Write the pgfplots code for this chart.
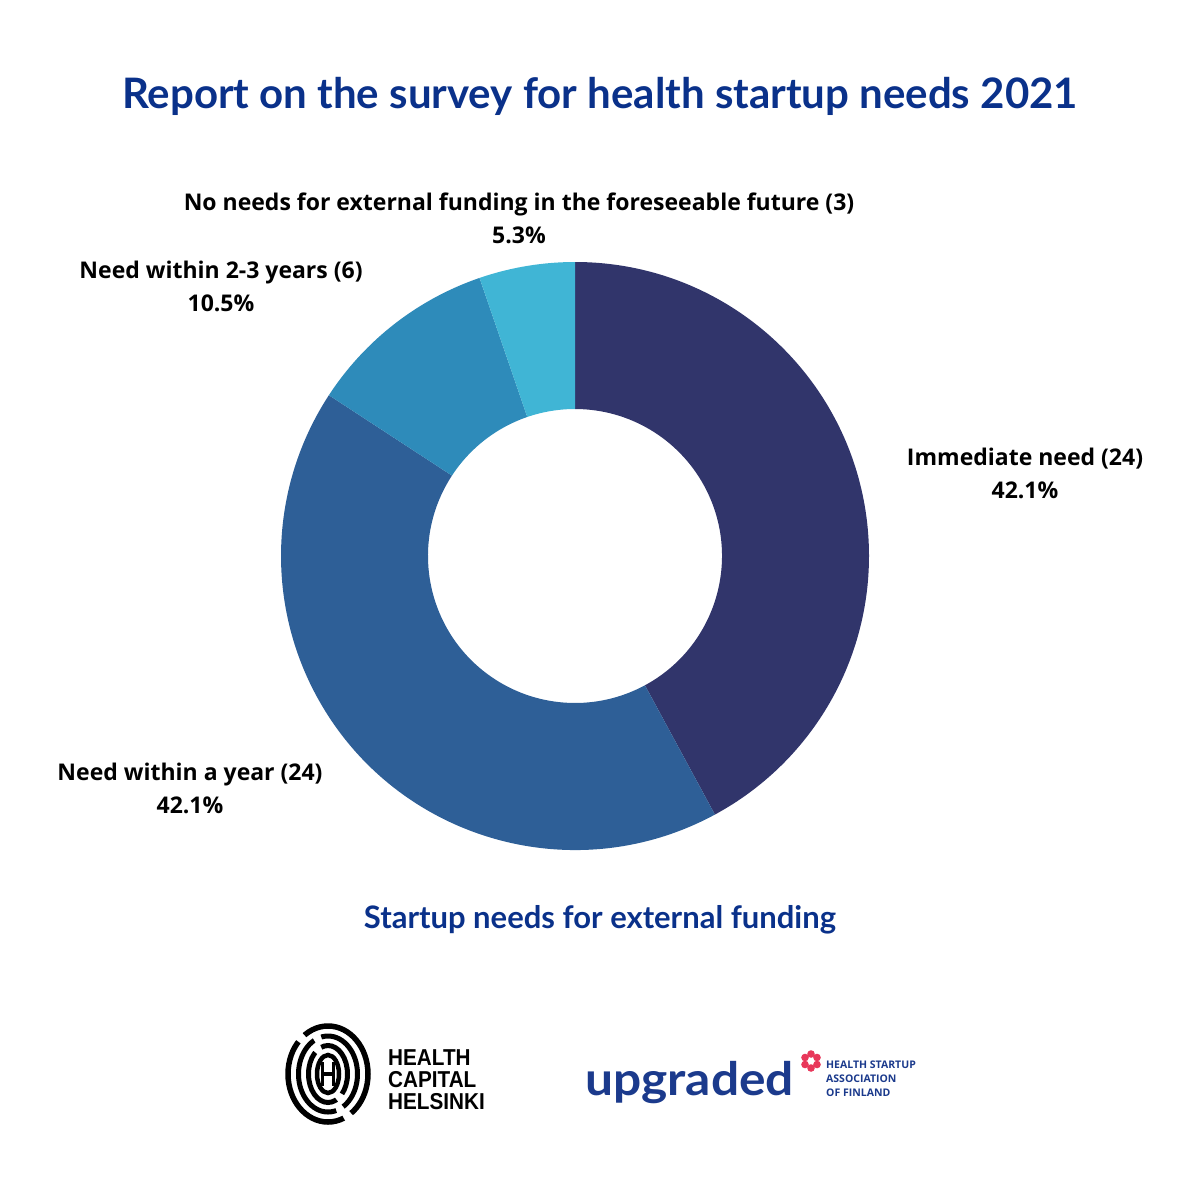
\documentclass[border=0pt]{standalone}
\usepackage{pgfplots}
\usepackage{pgfplotstable}
\pgfplotsset{compat=1.18}
\usepackage{fontspec}
\setmainfont{Open Sans}
\newfontfamily\lato{Lato}
\newfontfamily\latowide[FakeStretch=1.08]{Lato}
\newfontfamily\narrow[FakeStretch=0.9]{Liberation Sans}
\definecolor{titleblue}{HTML}{0A318A}
\definecolor{cA}{HTML}{31356B}
\definecolor{cB}{HTML}{2E5F97}
\definecolor{cC}{HTML}{2E8BBA}
\definecolor{cD}{HTML}{40B5D5}
\definecolor{upblue}{HTML}{1B3A8C}
\definecolor{uppink}{HTML}{E8375A}
\tikzset{lab/.style={font=\bfseries\fontsize{23}{33}\selectfont, align=center}}
\pgfplotstableread{
label value
Immediate 24
Year 24
TwoThree 6
None 3
}\data
\newcommand\donutwedge[3]{%
  \fill[#3] (axis cs:{575+294*cos(#1)},{556-294*sin(#1)}) arc[start angle=#1, end angle=#2, radius=294pt]
    -- (axis cs:{575+147*cos(#2)},{556-147*sin(#2)}) arc[start angle=#2, end angle=#1, radius=147pt] -- cycle;}
\begin{document}
\begin{tikzpicture}
\pgfplotstablegetelem{0}{value}\of\data \let\va\pgfplotsretval
\pgfplotstablegetelem{1}{value}\of\data \let\vb\pgfplotsretval
\pgfplotstablegetelem{2}{value}\of\data \let\vc\pgfplotsretval
\pgfplotstablegetelem{3}{value}\of\data \let\vd\pgfplotsretval
\pgfmathsetmacro\tot{\va+\vb+\vc+\vd}
\pgfmathsetmacro\aA{90}
\pgfmathsetmacro\aB{\aA-360*\va/\tot}
\pgfmathsetmacro\aC{\aB-360*\vb/\tot}
\pgfmathsetmacro\aD{\aC-360*\vc/\tot}
\pgfmathsetmacro\aE{\aD-360*\vd/\tot}
\path (0,0) rectangle (1200pt,1200pt);
\begin{axis}[at={(0,0)}, anchor=south west, x=1pt, y=1pt,
  xmin=0, xmax=1200, ymin=0, ymax=1200, y dir=reverse,
  hide axis, clip=false, scale only axis]
\donutwedge{\aA}{\aB}{cA}
\donutwedge{\aB}{\aC}{cB}
\donutwedge{\aC}{\aD}{cC}
\donutwedge{\aD}{\aE}{cD}
% title
\node[font=\lato\bfseries\fontsize{42}{48}\selectfont, text=titleblue] at (axis cs:600,96) {Report on the survey for health startup needs 2021};
\node[font=\lato\bfseries\fontsize{31}{36}\selectfont, text=titleblue] at (axis cs:600,920) {Startup needs for external funding};
% labels
\node[lab] at (axis cs:519,218.5) {No needs for external funding in the foreseeable future (3)\\5.3\%};
\node[lab] at (axis cs:221,286) {Need within 2-3 years (6)\\10.5\%};
\node[lab] at (axis cs:1025,473) {Immediate need (24)\\42.1\%};
\node[lab] at (axis cs:190,788) {Need within a year (24)\\42.1\%};
% HCH logo
\draw[line width=5.5pt, dash pattern=on 95pt off 9pt on 120pt off 9pt] (axis cs:328,1074) ellipse[x radius=40pt, y radius=48pt];
\draw[line width=5pt, dash pattern=on 60pt off 8pt on 100pt off 8pt] (axis cs:328,1074) ellipse[x radius=29.5pt, y radius=38pt];
\draw[line width=5pt, dash pattern=on 45pt off 8pt on 70pt off 8pt] (axis cs:328,1074) ellipse[x radius=19.5pt, y radius=28.5pt];
\draw[line width=4.5pt] (axis cs:328,1074) ellipse[x radius=11pt, y radius=19pt];
\draw[line width=3.5pt] (axis cs:322.5,1062) -- (axis cs:322.5,1086) (axis cs:333.5,1062) -- (axis cs:333.5,1086) (axis cs:322.5,1074) -- (axis cs:333.5,1074);
\tikzset{hch/.style={font=\narrow\bfseries\fontsize{23}{24}\selectfont, anchor=base west, inner sep=0pt}}
\node[hch] at (axis cs:388,1065) {HEALTH};
\node[hch] at (axis cs:388,1087) {CAPITAL};
\node[hch] at (axis cs:388,1109) {HELSINKI};
% upgraded logo
\node[font=\latowide\bfseries\fontsize{46}{46}\selectfont, text=upblue, anchor=base west, inner sep=0pt] at (axis cs:585,1095) {upgraded};
\fill[uppink] (axis cs:817,1064.5) circle[radius=3.8pt];
\fill[uppink] (axis cs:811,1068) circle[radius=3.8pt];
\fill[uppink] (axis cs:805,1064.5) circle[radius=3.8pt];
\fill[uppink] (axis cs:805,1057.5) circle[radius=3.8pt];
\fill[uppink] (axis cs:811,1054) circle[radius=3.8pt];
\fill[uppink] (axis cs:817,1057.5) circle[radius=3.8pt];
\tikzset{hsa/.style={font=\bfseries\fontsize{10.5}{13}\selectfont, text=upblue, anchor=base west, inner sep=0pt}}
\node[hsa] at (axis cs:826,1068) {HEALTH STARTUP};
\node[hsa] at (axis cs:826,1082) {ASSOCIATION};
\node[hsa] at (axis cs:826,1096) {OF FINLAND};
\end{axis}
\end{tikzpicture}
\end{document}
